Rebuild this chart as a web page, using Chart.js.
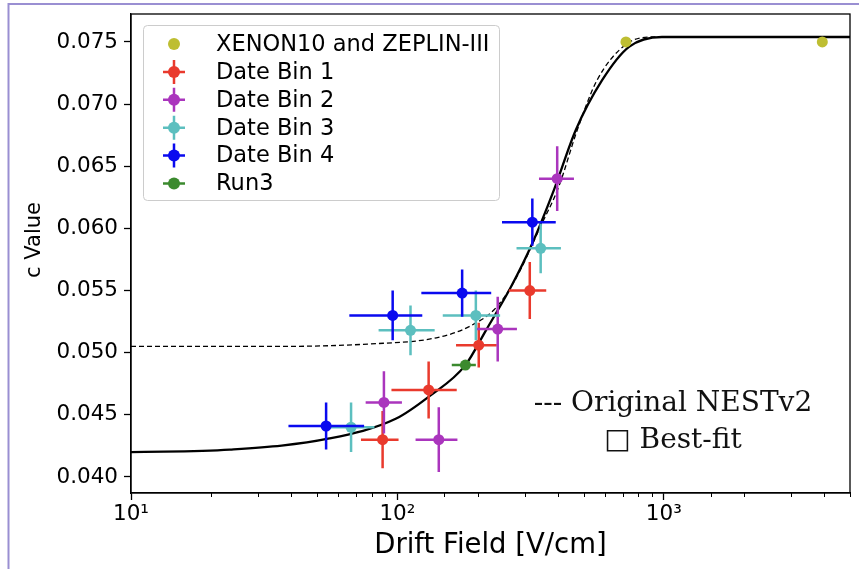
<!DOCTYPE html>
<html>
<head>
<meta charset="utf-8">
<title>c Value vs Drift Field</title>
<script src="https://cdn.jsdelivr.net/npm/chart.js@4.4.1/dist/chart.umd.min.js"></script>
<style>
    html, body { margin: 0; padding: 0; background: #ffffff; }
    #wrap { width: 859px; height: 569px; position: relative; }
</style>
</head>
<body>
<div id="wrap"><canvas id="cValueChart" width="859" height="569"></canvas></div>
<script>
// Values (drift field in V/cm, c value)
const xenonX = [721, 3936];
const xenonY = [0.0750, 0.0750];

const bin1X = [88, 131, 202, 314];
const bin1XLow = [73, 95, 166, 262];
const bin1XHigh = [101, 167, 236, 362];
const bin1Y = [0.0430, 0.0470, 0.0506, 0.0550];
const bin1YErr = [0.0023, 0.0023, 0.0018, 0.0023];

const bin2X = [89, 143, 238, 398];
const bin2XLow = [76, 117, 198, 340];
const bin2XHigh = [104, 168, 281, 460];
const bin2Y = [0.0460, 0.0430, 0.0519, 0.0640];
const bin2YErr = [0.0025, 0.0026, 0.0026, 0.0026];

const bin3X = [67, 112, 197, 345];
const bin3XLow = [55, 85, 148, 280];
const bin3XHigh = [82, 138, 243, 411];
const bin3Y = [0.0440, 0.0518, 0.0530, 0.0584];
const bin3YErr = [0.0020, 0.0020, 0.0020, 0.0020];

const bin4X = [54, 96, 175, 321];
const bin4XLow = [39, 66, 123, 247];
const bin4XHigh = [75, 124, 225, 393];
const bin4Y = [0.0441, 0.0530, 0.0548, 0.0605];
const bin4YErr = [0.0019, 0.0020, 0.0019, 0.0019];

const run3X = [180];
const run3XLow = [160];
const run3XHigh = [197];
const run3Y = [0.0490];
const run3YErr = [0.0002];

// curves
const bestFitX = [10, 23.5, 55.6, 99, 132, 180, 215, 267, 321, 387, 467, 586, 740, 984, 1500, 5000];
const bestFitY = [0.0420, 0.0422, 0.0431, 0.0447, 0.0465, 0.0490, 0.0518, 0.0553, 0.0588, 0.0631, 0.0679, 0.0719, 0.0746, 0.0754, 0.0754, 0.0754];
const nestX = [10, 33, 78.5, 140, 186, 234, 279, 340, 404, 473, 561, 721, 902, 1500, 5000];
const nestY = [0.0505, 0.0505, 0.0507, 0.0512, 0.0521, 0.0536, 0.0560, 0.0599, 0.0634, 0.0679, 0.0719, 0.0748, 0.0754, 0.0754, 0.0754];

const yTickStep = 0.005;
const xTickLabels = { 1: '10\u00b9', 2: '10\u00b2', 3: '10\u00b3' };

const colors = {
    xenon: '#bebe32',
    bin1: '#e93a2d',
    bin2: '#aa35bd',
    bin3: '#5cbfbf',
    bin4: '#0a0aef',
    run3: '#3b8a2e'
};

function toPoints(xs, ys) {
    return xs.map((x, i) => ({ x: x, y: ys[i] }));
}

function isPowerOfTen(v) {
    const l = Math.log10(v);
    return Math.abs(l - Math.round(l)) < 1e-9;
}

function pointSeries(label, xs, ys, color, order, xLow, xHigh, yErr) {
    return {
        label: label,
        type: 'scatter',
        data: toPoints(xs, ys),
        backgroundColor: color,
        borderColor: color,
        pointRadius: 5.5,
        pointBorderWidth: 0,
        showLine: false,
        order: order,
        xLow: xLow,
        xHigh: xHigh,
        yErr: yErr
    };
}

// white page with the lavender frame
const framePlugin = {
    id: 'frame',
    beforeDraw(chart) {
        const ctx = chart.ctx;
        ctx.save();
        ctx.fillStyle = '#ffffff';
        ctx.fillRect(0, 0, chart.width, chart.height);
        ctx.strokeStyle = '#9a8fd2';
        ctx.lineWidth = 2;
        ctx.beginPath();
        ctx.moveTo(8.5, chart.height);
        ctx.lineTo(8.5, 4);
        ctx.lineTo(chart.width, 4);
        ctx.stroke();
        ctx.restore();
    }
};

// error bars drawn just before each point series
const errorBarPlugin = {
    id: 'errorBars',
    beforeDatasetDraw(chart, args) {
        const ds = chart.data.datasets[args.index];
        if (!ds.yErr) return;
        const ctx = chart.ctx;
        const xs = chart.scales.x;
        const ys = chart.scales.y;
        ctx.save();
        ctx.strokeStyle = ds.borderColor;
        ctx.lineWidth = 2.5;
        ds.data.forEach((p, i) => {
            const px = xs.getPixelForValue(p.x);
            const py = ys.getPixelForValue(p.y);
            ctx.beginPath();
            ctx.moveTo(xs.getPixelForValue(ds.xLow[i]), py);
            ctx.lineTo(xs.getPixelForValue(ds.xHigh[i]), py);
            ctx.moveTo(px, ys.getPixelForValue(p.y - ds.yErr[i]));
            ctx.lineTo(px, ys.getPixelForValue(p.y + ds.yErr[i]));
            ctx.stroke();
        });
        ctx.restore();
    }
};

// box around the plot, minor x ticks, y title, legend and note
const decorPlugin = {
    id: 'decor',
    afterDraw(chart) {
        const ctx = chart.ctx;
        const area = chart.chartArea;
        const xs = chart.scales.x;
        ctx.save();

        ctx.strokeStyle = '#000';
        ctx.lineWidth = 1.3;
        ctx.strokeRect(area.left, area.top, area.right - area.left, area.bottom - area.top);

        ctx.lineWidth = 1;
        xs.ticks.forEach(t => {
            if (isPowerOfTen(t.value)) return;
            const px = Math.round(xs.getPixelForValue(t.value)) + 0.5;
            ctx.beginPath();
            ctx.moveTo(px, area.bottom);
            ctx.lineTo(px, area.bottom + 4);
            ctx.stroke();
        });

        // y axis title (sits a little above the middle in the original)
        ctx.save();
        ctx.translate(35, 240);
        ctx.rotate(-Math.PI / 2);
        ctx.fillStyle = '#000';
        ctx.font = '21px "DejaVu Sans"';
        ctx.textAlign = 'center';
        ctx.textBaseline = 'middle';
        ctx.fillText('c Value', 0, 0);
        ctx.restore();

        // legend
        const box = { x: 143, y: 25, w: 356, h: 175 };
        ctx.fillStyle = 'rgba(255,255,255,0.8)';
        ctx.strokeStyle = '#cccccc';
        ctx.lineWidth = 1;
        ctx.beginPath();
        ctx.roundRect(box.x + 0.5, box.y + 0.5, box.w, box.h, 4);
        ctx.fill();
        ctx.stroke();

        const entries = [
            { label: 'XENON10 and ZEPLIN-III', color: colors.xenon, kind: 'dot' },
            { label: 'Date Bin 1', color: colors.bin1, kind: 'cross' },
            { label: 'Date Bin 2', color: colors.bin2, kind: 'cross' },
            { label: 'Date Bin 3', color: colors.bin3, kind: 'cross' },
            { label: 'Date Bin 4', color: colors.bin4, kind: 'cross' },
            { label: 'Run3', color: colors.run3, kind: 'dash' }
        ];
        ctx.font = '22.5px "DejaVu Sans"';
        ctx.textBaseline = 'middle';
        ctx.textAlign = 'left';
        entries.forEach((e, i) => {
            const cy = 44 + i * 27.9;
            const cx = 174;
            ctx.strokeStyle = e.color;
            ctx.fillStyle = e.color;
            ctx.lineWidth = 2.5;
            if (e.kind !== 'dot') {
                ctx.beginPath();
                ctx.moveTo(cx - 11, cy);
                ctx.lineTo(cx + 11, cy);
                if (e.kind === 'cross') {
                    ctx.moveTo(cx, cy - 12);
                    ctx.lineTo(cx, cy + 12);
                }
                ctx.stroke();
            }
            ctx.beginPath();
            ctx.arc(cx, cy, 6, 0, Math.PI * 2);
            ctx.fill();
            ctx.fillStyle = '#000';
            ctx.fillText(e.label, 216, cy + 1);
        });

        // hand-written note on the right
        ctx.fillStyle = '#111';
        ctx.font = '28px "DejaVu Serif"';
        ctx.textAlign = 'center';
        ctx.textBaseline = 'alphabetic';
        ctx.fillText('--- Original NESTv2', 673, 411);
        ctx.fillText('\u25a1 Best-fit', 673, 448);

        ctx.restore();
    }
};

function initCValueChart(canvas) {
    const ctx = canvas.getContext('2d');

    const datasets = [
        {
            label: 'Original NESTv2',
            type: 'line',
            data: toPoints(nestX, nestY),
            borderColor: '#000',
            borderWidth: 1.3,
            borderDash: [5, 3],
            pointRadius: 0,
            cubicInterpolationMode: 'monotone',
            fill: false,
            order: 11
        },
        {
            label: 'Best-fit',
            type: 'line',
            data: toPoints(bestFitX, bestFitY),
            borderColor: '#000',
            borderWidth: 2.3,
            pointRadius: 0,
            cubicInterpolationMode: 'monotone',
            fill: false,
            order: 10
        },
        {
            label: 'XENON10 and ZEPLIN-III',
            type: 'scatter',
            data: toPoints(xenonX, xenonY),
            backgroundColor: colors.xenon,
            borderColor: colors.xenon,
            pointRadius: 5.5,
            pointBorderWidth: 0,
            order: 6
        },
        pointSeries('Date Bin 1', bin1X, bin1Y, colors.bin1, 5, bin1XLow, bin1XHigh, bin1YErr),
        pointSeries('Date Bin 2', bin2X, bin2Y, colors.bin2, 4, bin2XLow, bin2XHigh, bin2YErr),
        pointSeries('Date Bin 3', bin3X, bin3Y, colors.bin3, 3, bin3XLow, bin3XHigh, bin3YErr),
        pointSeries('Date Bin 4', bin4X, bin4Y, colors.bin4, 2, bin4XLow, bin4XHigh, bin4YErr),
        pointSeries('Run3', run3X, run3Y, colors.run3, 1, run3XLow, run3XHigh, run3YErr)
    ];

    new Chart(ctx, {
        type: 'scatter',
        data: { datasets: datasets },
        plugins: [framePlugin, errorBarPlugin, decorPlugin],
        options: {
            responsive: false,
            animation: false,
            devicePixelRatio: 1,
            layout: { padding: { top: 14, right: 9, left: 0, bottom: 0 } },
            plugins: {
                legend: { display: false },
                tooltip: { enabled: false }
            },
            scales: {
                x: {
                    type: 'logarithmic',
                    position: 'bottom',
                    min: 10,
                    max: 5000,
                    afterFit(scale) {
                        scale.height = 76;
                        scale.paddingLeft = 0;
                        scale.paddingRight = 0;
                    },
                    border: { color: '#000', width: 1.3 },
                    grid: {
                        drawOnChartArea: false,
                        tickLength: 7,
                        tickWidth: 1.3,
                        tickColor: c => (c.tick && isPowerOfTen(c.tick.value)) ? '#000' : 'rgba(0,0,0,0)'
                    },
                    ticks: {
                        autoSkip: false,
                        maxRotation: 0,
                        padding: 2,
                        color: '#000',
                        font: { family: 'DejaVu Sans', size: 21.5 },
                        callback: v => isPowerOfTen(v) ? (xTickLabels[Math.round(Math.log10(v))] || '') : ''
                    },
                    title: {
                        display: true,
                        text: 'Drift Field [V/cm]',
                        color: '#000',
                        font: { family: 'DejaVu Sans', size: 27.5 },
                        padding: { top: 0, bottom: 6.5 }
                    }
                },
                y: {
                    min: 0.03871,
                    max: 0.07725,
                    afterFit(scale) {
                        scale.width = 131;
                        scale.paddingTop = 0;
                        scale.paddingBottom = 0;
                    },
                    border: { color: '#000', width: 1.3 },
                    grid: {
                        drawOnChartArea: false,
                        tickLength: 7,
                        tickWidth: 1.3,
                        tickColor: '#000'
                    },
                    ticks: {
                        stepSize: yTickStep,
                        includeBounds: false,
                        padding: 6,
                        color: '#000',
                        font: { family: 'DejaVu Sans', size: 21.5 },
                        callback: v => v.toFixed(3)
                    }
                }
            }
        }
    });
}

document.addEventListener('DOMContentLoaded', function() {
    const canvas = document.getElementById('cValueChart');
    if (canvas) {
        initCValueChart(canvas);
    }
});
</script>
</body>
</html>
